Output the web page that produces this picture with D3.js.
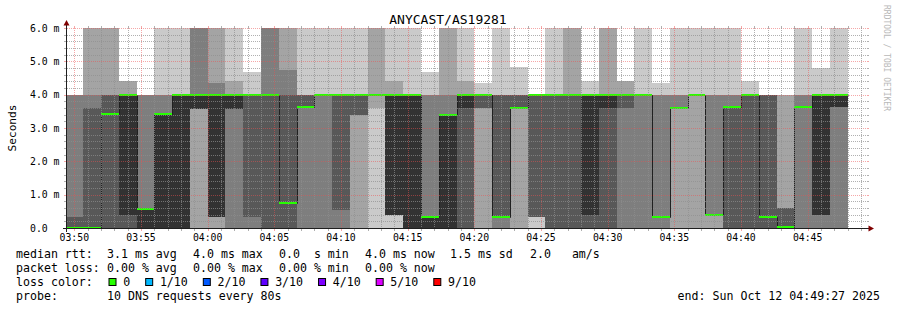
<!DOCTYPE html>
<html>
<head>
<meta charset="utf-8">
<script src="https://cdn.jsdelivr.net/npm/d3@7"></script>
<style>
  body { margin: 0; background: #fff; }
  text { font-family: "DejaVu Sans Mono", monospace; fill: #000; white-space: pre; }
</style>
</head>
<body>
<div id="chart"></div>
<script>
// one step every 80s, the first one is cut by the left edge
const firstStep = "2025-10-12T03:49:20Z";
const stepSeconds = 80;
const viewStart = "2025-10-12T03:49:27Z";
const viewEnd = "2025-10-12T04:49:27Z";

// 10 sorted ping times (ms) per step
const pings = [
  [0, 0, 0, 0, 0, 0, 0.34, 4, 4, 4],
  [0, 0, 0, 0, 0, 0, 3.6, 4, 6, 6],
  [0, 0, 0, 0, 3.42, 3.42, 4, 4, 6, 6],
  [0, 0, 0, 0, 0.4, 4, 4, 4, 4.4, 4.4],
  [0, 0, 0, 0, 0, 0.57, 0.57, 4, 4, 4],
  [0, 0, 0, 0, 0, 3.42, 3.42, 4, 4, 6],
  [0, 0, 0, 0, 0, 4, 4, 4, 4, 6],
  [0, 0, 3.58, 3.58, 3.58, 4, 4, 6, 6, 6],
  [0, 0, 0.34, 0.34, 0.34, 4, 4, 4.34, 6, 6],
  [0, 0, 0, 3.58, 3.58, 4, 4, 4, 4.4, 6],
  [0, 0, 0, 0.34, 4, 4, 4, 4, 4, 4.69],
  [0, 0, 0, 0, 4, 4, 4, 6, 6, 6],
  [0, 0, 0, 0, 0.74, 0.74, 4, 4.74, 6, 6],
  [0, 0, 0, 3.64, 3.64, 3.64, 4, 4, 4, 6],
  [0, 0, 0, 4, 4, 4, 4, 4, 4, 6],
  [0, 0, 0, 0.55, 4, 4, 4, 4, 4, 6],
  [0, 0, 3.4, 3.4, 4, 4, 4, 4, 4, 6],
  [0, 3.6, 4, 4, 4, 4, 4, 4, 6, 6],
  [0, 0.4, 0.4, 0.4, 0.4, 4, 4, 4, 4.4, 6],
  [0, 0, 0, 0, 0, 4, 4, 4, 4, 6],
  [0, 0, 0, 0, 0, 0.34, 0.34, 4, 4, 4.69],
  [0, 0, 0, 0, 0, 3.4, 3.4, 4, 6, 6],
  [0, 0, 0, 0, 3.6, 4, 4, 4, 4.4, 6],
  [0, 0, 3.6, 3.6, 4, 4, 4, 4, 4, 4.36],
  [0, 0, 0, 0.34, 0.34, 0.34, 4, 4, 4, 6],
  [0, 0, 3.6, 3.6, 3.6, 3.6, 4, 4, 4, 4.82],
  [0, 0.34, 0.34, 0.34, 4, 4, 4, 4, 4, 4],
  [0, 0, 0, 0, 4, 4, 4, 4, 4, 6],
  [0, 0, 0, 0, 4, 4, 4, 4, 6, 6],
  [0, 0, 0, 0, 0.4, 4, 4, 4, 4, 4.4],
  [0, 0, 0, 0, 3.6, 4, 4, 4, 6, 6],
  [0, 0, 0, 3.6, 4, 4, 4, 4, 4.4, 4.4],
  [0, 0, 0, 4, 4, 4, 4, 4, 4, 6],
  [0, 0, 0, 0.34, 0.34, 0.34, 0.34, 4, 4, 4.34],
  [0, 0, 3.6, 3.6, 3.6, 3.6, 3.6, 4, 4, 6],
  [0, 0, 4, 4, 4, 4, 4, 4, 4, 6],
  [0, 0, 0.4, 0.4, 0.4, 0.4, 0.4, 4, 4, 6],
  [0, 0, 0, 0, 3.64, 3.64, 3.64, 4, 4, 6],
  [0, 0, 0, 0, 4, 4, 4, 4, 4, 4.4],
  [0, 0, 0, 0, 0.34, 0.34, 4, 4, 4, 4],
  [0, 0, 0, 0, 0, 0.04, 0.6, 0.6, 4, 4],
  [0, 0, 0, 3.64, 3.64, 3.64, 3.64, 4, 4, 6],
  [0, 0, 0, 0.4, 0.4, 4, 4, 4, 4, 4.8],
  [0, 0, 0, 3.64, 3.64, 4, 4, 4, 4, 6]
];

const medians = [
  0, 0, 3.42, 4, 0.57, 3.42, 4, 4, 4, 4, 4, 4, 0.74, 3.64, 4, 4, 4, 4, 4, 4,
  0.34, 3.4, 4, 4, 0.34, 3.6, 4, 4, 4, 4, 4, 4, 4, 0.34, 3.6, 4, 0.4, 3.64, 4,
  0.34, 0.04, 3.64, 4, 4
];

const yMax = 6;
const yTicks = [0, 1, 2, 3, 4, 5, 6];
const yTickLabels = ["0.0", "1.0 m", "2.0 m", "3.0 m", "4.0 m", "5.0 m", "6.0 m"];
const smokeColors = ["#cacaca", "#a4a4a4", "#7e7e7e", "#585858", "#323232"];

const lossLabels = ["0", "1/10", "2/10", "3/10", "4/10", "5/10", "9/10"];
const lossColors = ["#26ff00", "#00b8ff", "#0059ff", "#5e00ff", "#7e00ff", "#dd00ff", "#ff0000"];

const rttLegend = ["3.1 ms avg", "4.0 ms max", "0.0  s min", "4.0 ms now", "1.5 ms sd", "2.0   am/s"];
const lossLegend = ["0.00 % avg", "0.00 % max", "0.00 % min", "0.00 % now"];

const title = "ANYCAST/AS19281";
const probeText = "10 DNS requests every 80s";
const endText = "end: Sun Oct 12 04:49:27 2025";

const W = 897, H = 310;
const plot = { left: 67, right: 867, top: 28, bottom: 228 };

const svg = d3.select("#chart").append("svg")
  .attr("width", W)
  .attr("height", H);

const x = d3.scaleUtc()
  .domain([new Date(viewStart), new Date(viewEnd)])
  .range([plot.left, plot.right]);
const y = d3.scaleLinear().domain([0, yMax]).range([plot.bottom, plot.top]);

const t0 = new Date(firstStep).getTime();
const stepTime = i => new Date(t0 + i * stepSeconds * 1000);

svg.append("clipPath").attr("id", "plotclip")
  .append("rect")
  .attr("x", plot.left).attr("y", plot.top)
  .attr("width", plot.right - plot.left)
  .attr("height", plot.bottom - plot.top);

const graph = svg.append("g").attr("clip-path", "url(#plotclip)");

// smoke: band k goes from ping k to ping 9-k
smokeColors.forEach((col, k) => {
  graph.append("g").selectAll("rect")
    .data(pings)
    .join("rect")
    .attr("x", (d, i) => x(stepTime(i)))
    .attr("width", (d, i) => x(stepTime(i + 1)) - x(stepTime(i)))
    .attr("y", d => y(d[9 - k]))
    .attr("height", d => y(d[k]) - y(d[9 - k]))
    .attr("fill", col)
    .attr("shape-rendering", "crispEdges");
});

// median line
const medPts = medians.map((m, i) => [stepTime(i), m]);
medPts.push([stepTime(medians.length), medians[medians.length - 1]]);
graph.append("path")
  .datum(medPts)
  .attr("fill", "none")
  .attr("stroke", "#202020")
  .attr("stroke-width", 1)
  .attr("d", d3.line().x(d => Math.round(x(d[0])) + 0.5).y(d => Math.round(y(d[1])) + 0.5).curve(d3.curveStepAfter));

// loss-coloured median (all 0 loss)
const sw = yMax / 200;
graph.append("g").selectAll("rect")
  .data(medians)
  .join("rect")
  .attr("x", (d, i) => x(stepTime(i)))
  .attr("width", (d, i) => x(stepTime(i + 1)) - x(stepTime(i)))
  .attr("y", d => y(d + sw))
  .attr("height", d => y(d - sw) - y(d + sw))
  .attr("fill", lossColors[0])
  .attr("shape-rendering", "crispEdges");

// grid
const gridMinor = "rgba(143,143,143,0.7)";
const gridMajor = "rgba(235,80,80,0.5)";
const grid = svg.append("g").attr("shape-rendering", "crispEdges");

const yMinor = d3.range(0, yMax + 0.001, 0.2).filter(v => Math.abs(v - Math.round(v)) > 0.01);
function hLine(v, col) {
  const yy = Math.round(y(v)) + 0.5;
  grid.append("line").attr("x1", plot.left).attr("x2", plot.right).attr("y1", yy).attr("y2", yy)
    .attr("stroke", col).attr("stroke-dasharray", "1,1");
  grid.append("line").attr("x1", plot.left - 3).attr("x2", plot.left - 1).attr("y1", yy).attr("y2", yy)
    .attr("stroke", col);
  grid.append("line").attr("x1", plot.right).attr("x2", plot.right + 2).attr("y1", yy).attr("y2", yy)
    .attr("stroke", col);
}
function vLine(t, col) {
  const xx = Math.round(x(t)) + 0.5;
  grid.append("line").attr("x1", xx).attr("x2", xx).attr("y1", plot.top).attr("y2", plot.bottom)
    .attr("stroke", col).attr("stroke-dasharray", "1,1");
  grid.append("line").attr("x1", xx).attr("x2", xx).attr("y1", plot.bottom + 1).attr("y2", plot.bottom + 3)
    .attr("stroke", col);
  grid.append("line").attr("x1", xx).attr("x2", xx).attr("y1", plot.top - 2).attr("y2", plot.top)
    .attr("stroke", col);
}
yMinor.forEach(v => hLine(v, gridMinor));
yTicks.filter(v => v > 0).forEach(v => hLine(v, gridMajor));

const majorTicks = x.ticks(d3.utcMinute.every(5));
x.ticks(d3.utcMinute.every(1))
  .filter(t => t.getUTCMinutes() % 5 !== 0)
  .forEach(t => vLine(t, gridMinor));
majorTicks.forEach(t => vLine(t, gridMajor));

// axes
const axisCol = "#1f1f1f";
svg.append("line").attr("x1", plot.left - 4).attr("x2", plot.right + 2)
  .attr("y1", plot.bottom + 0.5).attr("y2", plot.bottom + 0.5).attr("stroke", axisCol);
svg.append("line").attr("x1", plot.left - 0.5).attr("x2", plot.left - 0.5)
  .attr("y1", plot.bottom + 4).attr("y2", plot.top - 3).attr("stroke", axisCol);
svg.append("path")
  .attr("d", `M${plot.right + 1.5},${plot.bottom - 2.5}L${plot.right + 1.5},${plot.bottom + 3.5}L${plot.right + 7},${plot.bottom + 0.5}Z`)
  .attr("fill", "#800000");
svg.append("path")
  .attr("d", `M${plot.left - 3.5},${plot.top - 2.5}L${plot.left + 2.5},${plot.top - 2.5}L${plot.left - 0.5},${plot.top - 8}Z`)
  .attr("fill", "#800000");

// tick labels
const fmt = d3.utcFormat("%H:%M");
svg.append("g").selectAll("text")
  .data(majorTicks)
  .join("text")
  .attr("x", d => x(d))
  .attr("y", 241)
  .attr("text-anchor", "middle")
  .attr("font-size", "9.8px")
  .text(d => fmt(d));

svg.append("g").selectAll("text")
  .data(yTicks)
  .join("text")
  .attr("x", 30)
  .attr("y", d => y(d) + 3.5)
  .attr("font-size", "9.8px")
  .text((d, i) => yTickLabels[i]);

// title, unit, watermark
svg.append("text").attr("x", 448).attr("y", 24).attr("text-anchor", "middle")
  .attr("font-size", "13px").text(title);

svg.append("text").attr("transform", "translate(15.5,128) rotate(-90)")
  .attr("text-anchor", "middle").attr("font-size", "11.2px").text("Seconds");

svg.append("text").attr("transform", "translate(884,5) rotate(90)")
  .attr("font-size", "8px").style("fill", "#b8b8b8").text("RRDTOOL / TOBI OETIKER");

// legend
const lg = svg.append("g").attr("font-size", "11.6px");
const rowY = [258, 272, 286, 300];
const colX = [107, 193, 279, 365, 450, 530];

lg.append("text").attr("x", 16).attr("y", rowY[0]).text("median rtt:");
rttLegend.forEach((s, i) => lg.append("text").attr("x", colX[i]).attr("y", rowY[0]).text(s));

lg.append("text").attr("x", 16).attr("y", rowY[1]).text("packet loss:");
lossLegend.forEach((s, i) => lg.append("text").attr("x", colX[i]).attr("y", rowY[1]).text(s));

lg.append("text").attr("x", 16).attr("y", rowY[2]).text("loss color:");
let lx = 108.5;
lossLabels.forEach((s, i) => {
  lg.append("rect").attr("x", lx + 0.5).attr("y", rowY[2] - 7.5).attr("width", 7).attr("height", 7)
    .attr("fill", lossColors[i]).attr("stroke", "#000").attr("stroke-width", 1);
  const t = lg.append("text").attr("x", lx + 14.7).attr("y", rowY[2]).text(s);
  lx = lx + 14.7 + t.node().getComputedTextLength() + 15;
});

lg.append("text").attr("x", 16).attr("y", rowY[3]).text("probe:");
lg.append("text").attr("x", 107).attr("y", rowY[3]).text(probeText);
lg.append("text").attr("x", 880).attr("y", rowY[3]).attr("text-anchor", "end").text(endText);
</script>
</body>
</html>
